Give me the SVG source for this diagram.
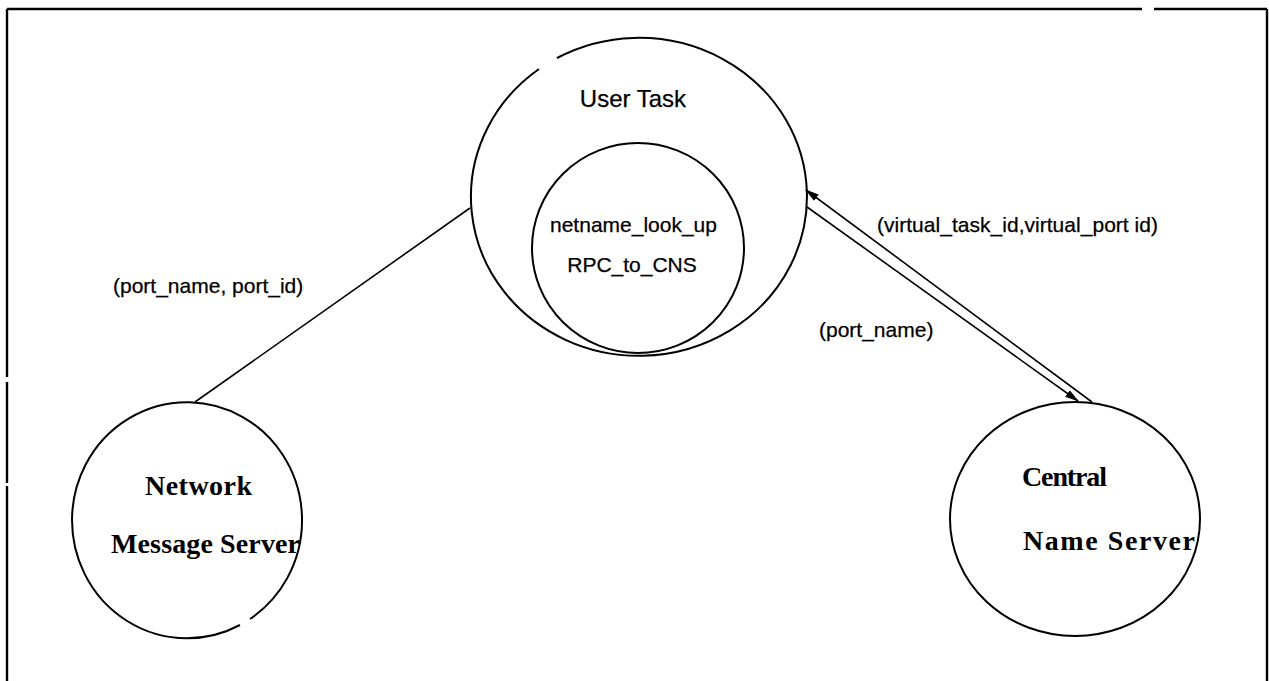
<svg xmlns="http://www.w3.org/2000/svg" width="1269" height="681" viewBox="0 0 1269 681">
  <style>
    .frame { fill: none; stroke: #000; stroke-width: 2.4; }
    .ring { fill: none; stroke: #000; stroke-width: 2; }
    .link { fill: none; stroke: #000; stroke-width: 1.6; }
    .sans { font-family: "Liberation Sans", Arial, sans-serif; font-size: 21px; fill: #000; stroke: #000; stroke-width: 0.25; }
    .title { font-size: 24px; }
    .serif { font-family: "Liberation Serif", "Times New Roman", serif; font-size: 28px; font-weight: bold; fill: #000; }
  </style>
  <defs>
    <marker id="arrow" viewBox="0 0 14 8" refX="13" refY="4" markerWidth="14" markerHeight="8" markerUnits="userSpaceOnUse" orient="auto">
      <path d="M0,0 L14,4 L0,8 z" fill="#000"/>
    </marker>
  </defs>
  <rect width="1269" height="681" fill="#fff"/>

  <!-- outer frame -->
  <path class="frame" d="M7,9 H1142 M1154,9 H1267 M1267,9 V681 M7,9 V377 M7,382 V483 M7,486 V681"/>

  <!-- connectors -->
  <g id="connectors">
    <line class="link" x1="195" y1="402" x2="470" y2="208"/>
    <line class="link" x1="1092" y1="402" x2="806" y2="190" marker-end="url(#arrow)"/>
    <line class="link" x1="807" y1="207" x2="1078" y2="401" marker-end="url(#arrow)"/>
    <text class="sans" x="113" y="293">(port_name, port_id)</text>
    <text class="sans" x="877" y="232" textLength="281">(virtual_task_id,virtual_port id)</text>
    <text class="sans" x="819" y="337">(port_name)</text>
  </g>

  <!-- user task with its inner procedure circle -->
  <g id="user-task">
    <path class="ring" d="M557,58 A168,159 0 1 1 539,69"/>
    <ellipse class="ring" cx="638" cy="248" rx="106" ry="105"/>
    <text class="sans title" x="633" y="107" text-anchor="middle">User Task</text>
    <text class="sans" x="633.5" y="232" text-anchor="middle">netname_look_up</text>
    <text class="sans" x="632" y="272" text-anchor="middle">RPC_to_CNS</text>
  </g>

  <!-- network message server -->
  <g id="network-message-server">
    <path class="ring" d="M240,625 A115,118 0 1 1 250,619"/>
    <text class="serif" x="145" y="495" textLength="107">Network</text>
    <text class="serif" x="111" y="553" textLength="189">Message Server</text>
  </g>

  <!-- central name server -->
  <g id="central-name-server">
    <ellipse class="ring" cx="1075" cy="519" rx="125" ry="117"/>
    <text class="serif" x="1022" y="486" textLength="85">Central</text>
    <text class="serif" x="1023" y="550" textLength="172">Name Server</text>
  </g>
</svg>
